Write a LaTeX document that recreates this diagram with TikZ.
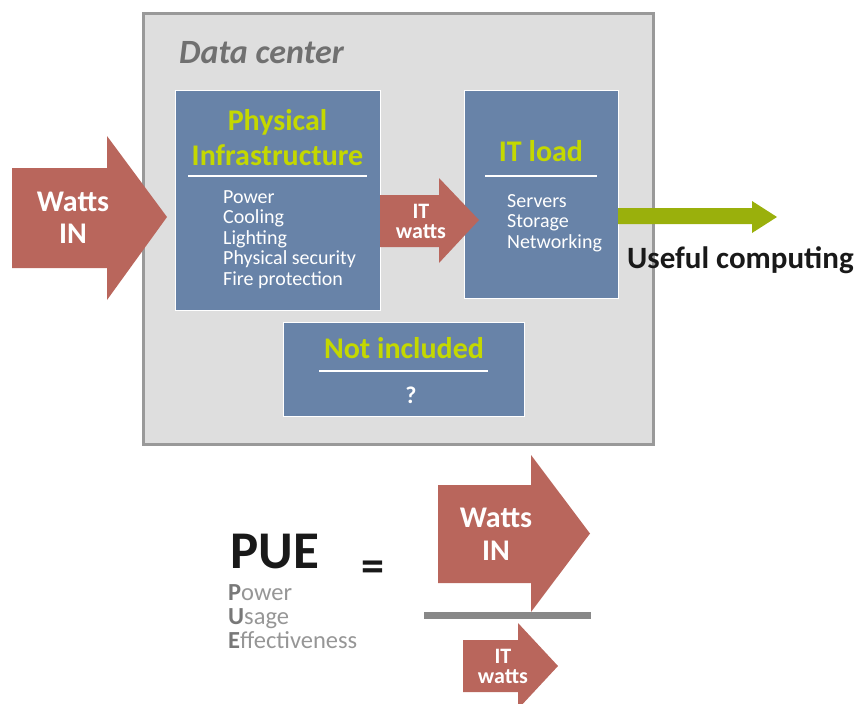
\documentclass[tikz,border=0pt]{standalone}
\usepackage{fontspec}
\setmainfont{Carlito}
\usetikzlibrary{positioning}
\definecolor{framefill}{RGB}{222,222,222}
\definecolor{framegray}{RGB}{153,153,153}
\definecolor{labelgray}{RGB}{112,112,112}
\definecolor{boxblue}{RGB}{104,131,168}
\definecolor{headgreen}{RGB}{196,216,0}
\definecolor{wattsred}{RGB}{185,102,92}
\definecolor{usefulgreen}{RGB}{154,176,12}
\definecolor{bargray}{RGB}{136,136,136}
\definecolor{pueletter}{RGB}{120,120,120}
\definecolor{puegray}{RGB}{150,150,150}
\tikzstyle{frame} = [rectangle, draw=framegray, line width=3pt,
                     fill=framefill, anchor=north west, inner sep=0pt]
\tikzstyle{block} = [rectangle, draw=white, line width=1pt,
                     fill=boxblue, anchor=north west, inner sep=0pt]
\tikzstyle{heading} = [font=\fontsize{30}{36}\selectfont\bfseries,
                       text=headgreen, anchor=base, inner sep=0pt]
\tikzstyle{listentry} = [font=\fontsize{20}{24}\selectfont, text=white,
                         anchor=base west, inner sep=0pt]
\tikzstyle{rule} = [draw=white, line width=1.5pt]
\tikzstyle{bigarrowtext} = [font=\fontsize{30}{36}\selectfont\bfseries,
                            text=white, anchor=base, inner sep=0pt]
\tikzstyle{smallarrowtext} = [font=\fontsize{22}{26}\selectfont\bfseries,
                              text=white, anchor=base, inner sep=0pt]
\tikzstyle{pueword} = [font=\fontsize{24.5}{28}\selectfont, text=puegray,
                       anchor=base west, inner sep=0pt]

\begin{document}
\begin{tikzpicture}[x=1pt, y=-1pt]
        \useasboundingbox (0,0) rectangle (855,704);

        % data center frame
        \node (DataCenter) [frame, minimum width=510pt, minimum height=431pt] at (142,12) {};
        \node (DataCenterLabel) [font=\fontsize{34}{38}\selectfont\bfseries\itshape,
              text=labelgray, anchor=base west, inner sep=0pt] at (179,63) {Data center};

        % the three blocks
        \node (Physical) [block, minimum width=205pt, minimum height=220pt] at (175,90) {};
        \node (ITLoad) [block, minimum width=154pt, minimum height=208pt] at (464,90) {};
        \node (NotIncluded) [block, minimum width=241pt, minimum height=94pt] at (283,322) {};

        \node (PhysicalTitleA) [heading] at (277.5,130) {Physical};
        \node (PhysicalTitleB) [heading] at (277.5,165) {Infrastructure};
        \draw [rule] (188,176) -- (367,176);
        \foreach \entry [count=\i] in {Power, Cooling, Lighting, Physical security, Fire protection}
            \node (PhysicalEntry\i) [listentry] at (223,{203+20.5*(\i-1)}) {\entry};

        \node (ITLoadTitle) [heading] at (541,161) {IT load};
        \draw [rule] (485,176) -- (597,176);
        \foreach \entry [count=\i] in {Servers, Storage, Networking}
            \node (ITLoadEntry\i) [listentry] at (507,{207+20.5*(\i-1)}) {\entry};

        \node (NotIncludedTitle) [heading] at (404,358) {Not included};
        \draw [rule] (319,371) -- (488,371);
        \node (NotIncludedMark) [font=\fontsize{24}{28}\selectfont\bfseries, text=white,
              anchor=base, inner sep=0pt] at (411,403) {?};

        % watts in
        \fill [wattsred] (12,168) -- (107,168) -- (107,136) -- (167,217)
              -- (107,300) -- (107,268) -- (12,268) -- cycle;
        \node (WattsInA) [bigarrowtext] at (73,211) {Watts};
        \node (WattsInB) [bigarrowtext] at (73,243) {IN};

        % it watts
        \fill [wattsred] (380,195) -- (439,195) -- (439,178) -- (479,220)
              -- (439,263) -- (439,247) -- (380,247) -- cycle;
        \node (ITWattsA) [smallarrowtext] at (421,218) {IT};
        \node (ITWattsB) [smallarrowtext] at (421,238) {watts};

        % useful computing
        \fill [usefulgreen] (618,208) -- (752,208) -- (752,201) -- (777,217)
              -- (752,233) -- (752,224) -- (618,224) -- cycle;
        \node (Useful) [font=\fontsize{31}{35}\selectfont\bfseries, text=black!90,
              anchor=base west, inner sep=0pt] at (627,268) {Useful computing};

        % PUE formula
        \node (PUE) [font=\fontsize{53}{57}\selectfont\bfseries, text=black!90,
              anchor=base west, inner sep=0pt] at (230,568) {PUE};
        \node (PowerWord) [pueword] at (228,600) {{\bfseries\color{pueletter}P}ower};
        \node (UsageWord) [pueword] at (228,624) {{\bfseries\color{pueletter}U}sage};
        \node (EffectWord) [pueword] at (228,648) {{\bfseries\color{pueletter}E}ffectiveness};
        \node (Equals) [font=\fontsize{46}{50}\selectfont\bfseries, text=black!90,
              inner sep=0pt] at (373,571) {=};

        \fill [wattsred] (438,485) -- (531,485) -- (531,455) -- (590,533.5)
              -- (531,612) -- (531,583) -- (438,583) -- cycle;
        \node (PUEWattsA) [bigarrowtext] at (496,527) {Watts};
        \node (PUEWattsB) [bigarrowtext] at (496,560) {IN};

        \fill [bargray] (424,612) rectangle (591,619);

        \fill [wattsred] (463,640) -- (518,640) -- (518,623) -- (558,666)
              -- (518,709) -- (518,692) -- (463,692) -- cycle;
        \node (PUEITA) [smallarrowtext] at (503,663) {IT};
        \node (PUEITB) [smallarrowtext] at (503,683) {watts};

    \end{tikzpicture}
\end{document}
